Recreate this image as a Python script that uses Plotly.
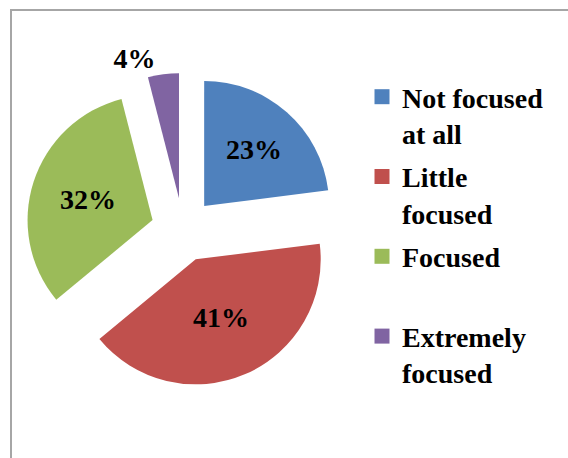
import plotly.graph_objects as go

# Share of respondents by focus level
categories = ["Not focused<br>at all", "Little<br>focused", "Focused", "Extremely<br>focused"]
values = [23, 41, 32, 4]
colors = ["#4F81BD", "#C0504D", "#9BBB59", "#8064A2"]
label_positions = ["inside", "inside", "inside", "outside"]

W, H = 568, 458
FONT = "Liberation Serif, Times New Roman, serif"
FONT_SIZE = 28

fig = go.Figure()

fig.add_trace(
    go.Pie(
        labels=categories,
        values=values,
        sort=False,
        direction="clockwise",
        rotation=0,
        pull=[0.256] * len(values),
        marker=dict(colors=colors, line=dict(width=0)),
        texttemplate="<b>%{percent:.0%}</b>",
        textposition=label_positions,
        insidetextorientation="horizontal",
        textfont=dict(family=FONT, size=FONT_SIZE, color="black"),
        domain=dict(x=[26 / W, 340 / W], y=[1 - 387 / H, 1 - 73 / H]),
        hoverinfo="label+percent",
        showlegend=False,
    )
)

# Legend entries: one square swatch per category, each in its own group
for name, color in zip(categories, colors):
    label = name if "<br>" in name else name + "<br>&nbsp;"
    fig.add_trace(
        go.Scatter(
            x=[None], y=[None], mode="markers", name=label,
            marker=dict(symbol="square", size=15, color=color),
            legendgroup=name, showlegend=True, hoverinfo="skip",
        )
    )

# Chart frame
fig.add_shape(
    type="rect", xref="paper", yref="paper",
    x0=11 / W, x1=1.1, y0=-0.1, y1=1 - 10 / H,
    line=dict(color="#A6A6A6", width=2), fillcolor="rgba(0,0,0,0)",
)

fig.update_layout(
    width=W, height=H,
    margin=dict(l=0, r=0, t=0, b=0, autoexpand=False),
    paper_bgcolor="white",
    plot_bgcolor="rgba(0,0,0,0)",
    xaxis=dict(visible=False),
    yaxis=dict(visible=False),
    showlegend=True,
    legend=dict(
        x=362 / W, xanchor="left",
        y=1 - 72 / H, yanchor="top",
        valign="top",
        font=dict(family=FONT, size=FONT_SIZE, color="black", weight="bold"),
        itemwidth=30,
        itemsizing="trace",
        tracegroupgap=4,
        bgcolor="rgba(0,0,0,0)",
    ),
)

fig.write_html("out.html")
